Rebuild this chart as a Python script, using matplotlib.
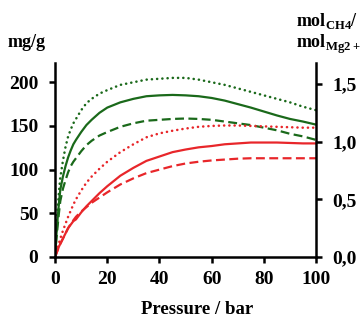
import matplotlib
matplotlib.use("Agg")
import matplotlib.pyplot as plt

plt.rcParams['font.family'] = ['Liberation Serif', 'DejaVu Serif']
plt.rcParams['font.weight'] = 'bold'
plt.rcParams['mathtext.fontset'] = 'custom'
plt.rcParams['mathtext.rm'] = 'Liberation Serif:bold'
plt.rcParams['mathtext.bf'] = 'Liberation Serif:bold'

pressure = [0, 0.5, 1, 1.5, 2, 3, 4, 5, 6, 7, 8, 10, 12, 14, 17, 20, 25, 30, 35, 40,
            45, 50, 55, 60, 65, 70, 75, 80, 85, 90, 95, 100]
green_dotted = [0, 30, 55, 75, 91, 110, 126, 138, 146, 153, 158, 168, 176, 181, 187, 191, 197, 200, 203, 204,
                205, 205, 203, 200, 197, 193, 189, 185, 181, 177, 172, 168]
green_solid = [0, 25, 45, 62, 77, 92, 104, 114, 122, 129, 134, 143, 151, 157, 165, 171, 177, 181, 184, 185,
               185.5, 185, 184, 182, 179, 175, 171, 166.5, 162, 158, 155, 151.5]
green_dashed = [0, 20, 36, 51, 64, 78, 88, 97, 104, 109, 113, 121, 128, 133, 139, 143, 149, 153, 156, 157,
                158, 158.5, 158, 157, 155, 153, 151, 148, 145, 141, 138, 134]
red_dotted = [0, 6, 11, 16, 21, 30, 38, 46, 53, 60, 66, 76, 85, 92, 101, 109, 120, 129, 137, 141.5,
              144.5, 147, 149, 150, 150.5, 150.5, 150, 149.5, 149, 148.5, 148, 148]
red_solid = [0, 4, 8, 12, 15, 21, 27, 33, 37, 41, 43, 51, 58, 64, 73, 81, 93, 102, 110, 115,
             120, 123, 125.5, 127, 129, 130, 131, 131, 131, 130.5, 130, 130]
red_dashed = [0, 4, 8, 12, 15, 21, 27, 33, 38, 42, 46, 52, 57, 62, 68, 74, 83, 90, 96, 100,
              104, 107, 109, 110.5, 111.5, 112.5, 113, 113, 113, 113, 113, 113]

x_ticks = [0, 20, 40, 60, 80, 100]
left_ticks = [0, 50, 100, 150, 200]
right_ticks = [0.0, 0.5, 1.0, 1.5]
right_labels = ['0,0', '0,5', '1,0', '1,5']

GREEN = '#1a691a'
RED = '#e8262a'

fig = plt.figure(figsize=(3.6, 3.2), dpi=100)
ax = fig.add_axes([0.153, 0.197, 0.725, 0.606])
lw = 1.6
dot = (0, (0.05, 2.0))
dash = (0, (4, 2))
ax.plot(pressure, green_dotted, color=GREEN, lw=lw * 1.15, linestyle=dot, dash_capstyle='round')
ax.plot(pressure, green_solid, color=GREEN, lw=lw, linestyle='-')
ax.plot(pressure, green_dashed, color=GREEN, lw=lw, linestyle=dash)
ax.plot(pressure, red_dotted, color=RED, lw=lw * 1.15, linestyle=dot, dash_capstyle='round')
ax.plot(pressure, red_solid, color=RED, lw=lw, linestyle='-')
ax.plot(pressure, red_dashed, color=RED, lw=lw, linestyle=dash)

ax.set_xlim(0, 100)
ax.set_ylim(0, 222)
ax.set_xticks(x_ticks)
ax.set_yticks(left_ticks)
ax.spines['top'].set_visible(False)
ax.spines['right'].set_visible(False)
for s in ['left', 'bottom']:
    ax.spines[s].set_linewidth(1.8)
ax.tick_params(axis='x', labelsize=14, width=1.8, length=4, direction='out', pad=6)
ax.tick_params(axis='y', labelsize=14, width=1.8, length=4, direction='out', pad=8)
for lab in ax.get_xticklabels() + ax.get_yticklabels():
    lab.set_fontweight('bold')

ax2 = ax.twinx()
ax2.set_ylim(0, 1.68)
ax2.set_yticks(right_ticks)
ax2.set_yticklabels(right_labels)
for s in ['top', 'left', 'bottom']:
    ax2.spines[s].set_visible(False)
ax2.spines['right'].set_linewidth(1.8)
ax2.tick_params(axis='y', labelsize=14, width=1.8, length=4, direction='out', pad=8)
for lab in ax2.get_yticklabels():
    lab.set_fontweight('bold')

fig.text(0.022, 0.868, 'mg/g', fontsize=13, fontweight='bold', ha='left', va='center')
fig.text(0.823, 0.935, r'$\mathrm{mol}_{\mathrm{CH4}}$/', fontsize=13, ha='left', va='center')
fig.text(0.823, 0.86, r'$\mathrm{mol}_{\mathrm{Mg2+}}$', fontsize=13, ha='left', va='center')
fig.text(0.547, 0.034, 'Pressure / bar', fontsize=13.5, fontweight='bold', ha='center', va='center')

fig.savefig('out.png', dpi=100)
